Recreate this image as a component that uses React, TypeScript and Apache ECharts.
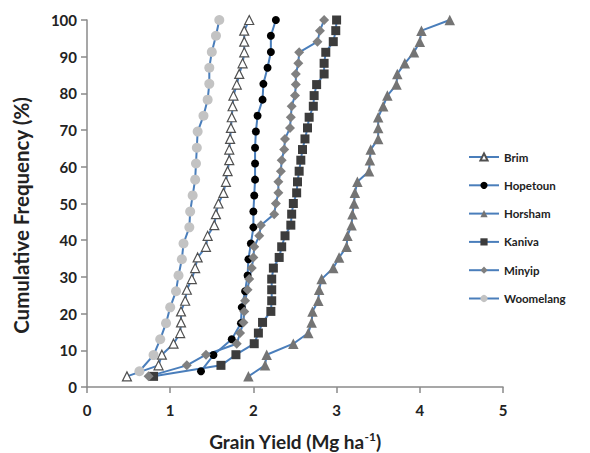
import React, { useEffect, useRef } from "react";
import * as echarts from "echarts";

// Cumulative frequency (%) levels
const freq34 = [2.9, 5.9, 8.8, 11.8, 14.7, 17.6, 20.6, 23.5, 26.5, 29.4, 32.4, 35.3, 38.2, 41.2, 44.1, 47.1, 50, 52.9, 55.9, 58.8, 61.8, 64.7, 67.6, 70.6, 73.5, 76.5, 79.4, 82.4, 85.3, 88.2, 91.2, 94.1, 97.1, 100];
const freq23 = [4.3, 8.7, 13, 17.4, 21.7, 26.1, 30.4, 34.8, 39.1, 43.5, 47.8, 52.2, 56.5, 60.9, 65.2, 69.6, 73.9, 78.3, 82.6, 87, 91.3, 95.7, 100];

// Grain yield (Mg/ha) per site, sorted ascending
const brim = [0.48, 0.86, 0.90, 1.04, 1.12, 1.13, 1.13, 1.18, 1.20, 1.26, 1.30, 1.33, 1.43, 1.45, 1.53, 1.55, 1.58, 1.64, 1.67, 1.69, 1.71, 1.71, 1.72, 1.73, 1.74, 1.75, 1.76, 1.80, 1.83, 1.87, 1.89, 1.89, 1.89, 1.95];
const hopetoun = [1.37, 1.52, 1.74, 1.85, 1.86, 1.90, 1.93, 1.94, 1.97, 2.00, 2.00, 2.01, 2.02, 2.02, 2.02, 2.03, 2.05, 2.11, 2.12, 2.17, 2.21, 2.21, 2.27];
const horsham = [1.94, 2.14, 2.16, 2.48, 2.66, 2.70, 2.71, 2.78, 2.79, 2.82, 2.96, 3.03, 3.12, 3.13, 3.18, 3.19, 3.21, 3.22, 3.25, 3.39, 3.40, 3.41, 3.50, 3.50, 3.50, 3.56, 3.61, 3.72, 3.73, 3.82, 3.93, 4.00, 4.02, 4.36];
const kaniva = [0.80, 1.61, 1.79, 2.01, 2.06, 2.11, 2.21, 2.22, 2.22, 2.22, 2.24, 2.31, 2.34, 2.38, 2.45, 2.46, 2.48, 2.52, 2.53, 2.55, 2.57, 2.59, 2.62, 2.65, 2.67, 2.72, 2.73, 2.76, 2.85, 2.85, 2.87, 2.96, 2.99, 3.00];
const minyip = [0.74, 1.20, 1.43, 1.80, 1.84, 1.88, 1.89, 1.90, 1.93, 1.95, 1.98, 2.00, 2.01, 2.07, 2.09, 2.25, 2.27, 2.30, 2.30, 2.33, 2.34, 2.37, 2.38, 2.44, 2.45, 2.46, 2.50, 2.51, 2.51, 2.54, 2.55, 2.77, 2.80, 2.85];
const woomelang = [0.63, 0.80, 0.88, 0.95, 1.00, 1.07, 1.10, 1.14, 1.16, 1.23, 1.24, 1.27, 1.30, 1.31, 1.32, 1.33, 1.40, 1.45, 1.47, 1.47, 1.50, 1.55, 1.59];

const xTicks = [0, 1, 2, 3, 4, 5];
const yTicks = [0, 10, 20, 30, 40, 50, 60, 70, 80, 90, 100];

const FONT = "Lato";
const LINE = "#4a7ebb";

const pair = (xs: number[], fs: number[]) => xs.map((x, i) => [x, fs[i]]);

export default function App() {
  const ref = useRef<HTMLDivElement>(null);
  useEffect(() => {
    if (!ref.current) return;
    const chart = echarts.init(ref.current, null, { renderer: "svg" });
    const mk = (name: string, data: number[][], symbol: string, size: number, item: any) => ({
      name,
      type: "line",
      data,
      symbol,
      symbolSize: size,
      showAllSymbol: true,
      lineStyle: { color: LINE, width: 2 },
      itemStyle: item,
    });
    chart.setOption({
      animation: false,
      backgroundColor: "#fff",
      grid: { left: 87, right: 87, top: 20, bottom: 66, containLabel: false, outerBoundsMode: "none" },
      legend: {
        orient: "vertical",
        left: 463,
        top: 146,
        itemWidth: 30,
        itemHeight: 9,
        itemGap: 16.3,
        textStyle: { fontFamily: FONT, fontWeight: "bold", fontSize: 11.5, color: "#222" },
      },
      xAxis: {
        type: "value",
        min: xTicks[0],
        max: xTicks[xTicks.length - 1],
        interval: 1,
        splitLine: { show: false },
        axisLine: { lineStyle: { color: "#8a8a8a", width: 1.5 } },
        axisTick: { show: true, length: 6, lineStyle: { color: "#8a8a8a", width: 1.5 } },
        axisLabel: { fontFamily: FONT, fontWeight: "bold", fontSize: 15, color: "#222", margin: 15 },
        name: "Grain Yield (Mg ha{sup|-1})",
        nameLocation: "middle",
        nameGap: 43,
        nameTextStyle: {
          fontFamily: FONT,
          fontWeight: "bold",
          fontSize: 19,
          color: "#222",
          rich: {
            sup: { fontFamily: FONT, fontWeight: "bold", fontSize: 12, color: "#222", padding: [0, 0, 10, 0] },
          },
        },
      },
      yAxis: {
        type: "value",
        min: yTicks[0],
        max: yTicks[yTicks.length - 1],
        interval: 10,
        splitLine: { show: false },
        axisLine: { show: true, lineStyle: { color: "#8a8a8a", width: 1.5 } },
        axisTick: { show: true, length: 6, lineStyle: { color: "#8a8a8a", width: 1.5 } },
        axisLabel: { fontFamily: FONT, fontWeight: "bold", fontSize: 15, color: "#222", margin: 10 },
        name: "Cumulative Frequency (%)",
        nameLocation: "middle",
        nameGap: 56,
        nameTextStyle: { fontFamily: FONT, fontWeight: "bold", fontSize: 20.5, color: "#222", padding: [0, 24, 0, 0] },
      },
      series: [
        mk("Brim", pair(brim, freq34), "triangle", 9, { color: "#ffffff", borderColor: "#505050", borderWidth: 1.2 }),
        mk("Hopetoun", pair(hopetoun, freq23), "circle", 8, { color: "#000000" }),
        mk("Horsham", pair(horsham, freq34), "triangle", 10.5, { color: "#747474" }),
        mk("Kaniva", pair(kaniva, freq34), "rect", 9, { color: "#3c3c3c" }),
        mk("Minyip", pair(minyip, freq34), "diamond", 10, { color: "#808080" }),
        mk("Woomelang", pair(woomelang, freq23), "circle", 10, { color: "#c3c3c3" }),
      ],
    });
    return () => chart.dispose();
  }, []);
  return <div ref={ref} style={{ position: "absolute", left: 0, top: 0, width: 590, height: 453 }} />;
}
